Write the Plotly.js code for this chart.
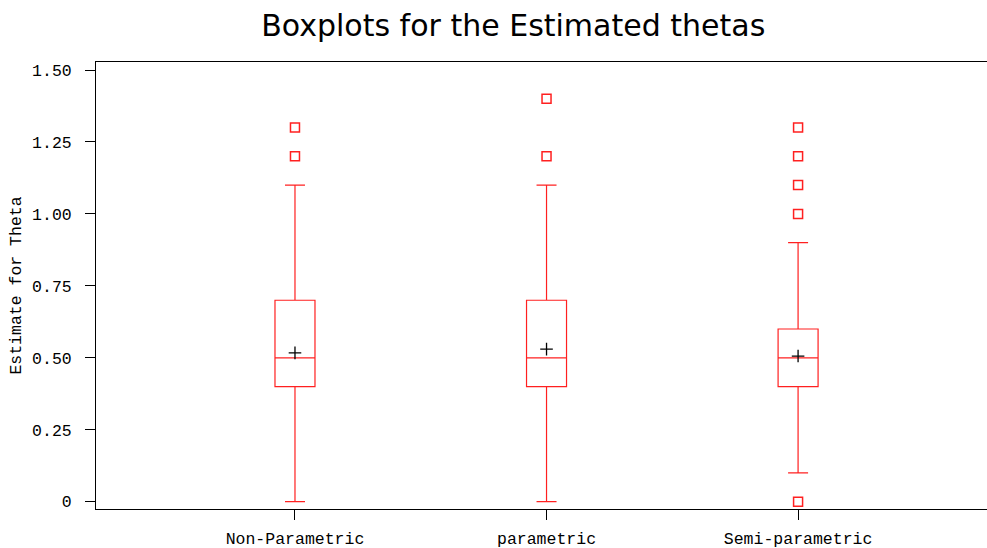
<!DOCTYPE html>
<html>
<head>
<meta charset="utf-8">
<script src="https://cdn.plot.ly/plotly-3.0.1.min.js"></script>
<style>html,body{margin:0;padding:0;background:#fff;}</style>
</head>
<body>
<div id="chart" style="width:987px;height:548px;"></div>
<script>
const categories = ["Non-Parametric", "parametric", "Semi-parametric"];
const q1 = [0.4, 0.4, 0.4];
const medians = [0.5, 0.5, 0.5];
const q3 = [0.7, 0.7, 0.6];
const lowerWhisker = [0.0, 0.0, 0.1];
const upperWhisker = [1.1, 1.1, 0.9];
const means = [0.517, 0.530, 0.506];
const outlierCats = ["Non-Parametric", "Non-Parametric", "parametric", "parametric",
  "Semi-parametric", "Semi-parametric", "Semi-parametric", "Semi-parametric", "Semi-parametric"];
const outlierVals = [1.2, 1.3, 1.2, 1.4, 0.0, 1.0, 1.1, 1.2, 1.3];
const yTickVals = [0, 0.25, 0.5, 0.75, 1.0, 1.25, 1.5];
const yTickText = ["0", "0.25", "0.50", "0.75", "1.00", "1.25", "1.50"];

const monoFamily = "Liberation Mono, DejaVu Sans Mono, monospace";
const tickFont = {family: monoFamily, size: 16.5, color: "#000"};

const traces = [
  {
    type: "box",
    x: categories,
    q1: q1,
    median: medians,
    q3: q3,
    lowerfence: lowerWhisker,
    upperfence: upperWhisker,
    width: 0.159,
    whiskerwidth: 0.5,
    line: {color: "#ff2020", width: 1.2},
    fillcolor: "rgba(255,255,255,0)",
    boxpoints: false,
    hoverinfo: "skip",
    showlegend: false
  },
  {
    type: "scatter",
    mode: "markers",
    x: outlierCats,
    y: outlierVals,
    marker: {symbol: "square-open", size: 9, color: "#ff2020", line: {width: 1.5, color: "#ff2020"}},
    showlegend: false,
    cliponaxis: false
  },
  {
    type: "scatter",
    mode: "markers",
    x: categories,
    y: means,
    marker: {symbol: "cross-thin-open", size: 9, color: "#000", line: {width: 1.3, color: "#000"}},
    showlegend: false
  }
];

const layout = {
  width: 987,
  height: 548,
  margin: {l: 96, r: 0, t: 62, b: 39},
  paper_bgcolor: "#fff",
  plot_bgcolor: "#fff",
  title: {
    text: "Boxplots for the Estimated thetas",
    font: {family: "DejaVu Sans, Arial, sans-serif", size: 30, color: "#000"},
    x: 0.52, xanchor: "center",
    y: 0.953, yanchor: "middle"
  },
  xaxis: {
    type: "category",
    categoryorder: "array",
    categoryarray: categories,
    range: [-0.791, 2.751],
    showgrid: false,
    zeroline: false,
    showline: true,
    linecolor: "#000",
    linewidth: 1,
    mirror: true,
    ticks: "outside",
    ticklen: 10,
    tickcolor: "#000",
    tickfont: tickFont,
    ticklabelstandoff: 4
  },
  yaxis: {
    range: [-0.0254, 1.5278],
    tickvals: yTickVals,
    ticktext: yTickText,
    showgrid: false,
    zeroline: false,
    showline: true,
    linecolor: "#000",
    linewidth: 1,
    ticks: "outside",
    ticklen: 10,
    tickcolor: "#000",
    tickfont: tickFont,
    ticklabelstandoff: 10,
    title: {text: "Estimate for Theta", font: {family: monoFamily, size: 16.5, color: "#000"}, standoff: 6}
  },
  showlegend: false
};

Plotly.newPlot("chart", traces, layout, {displayModeBar: false, staticPlot: true});
</script>
</body>
</html>
